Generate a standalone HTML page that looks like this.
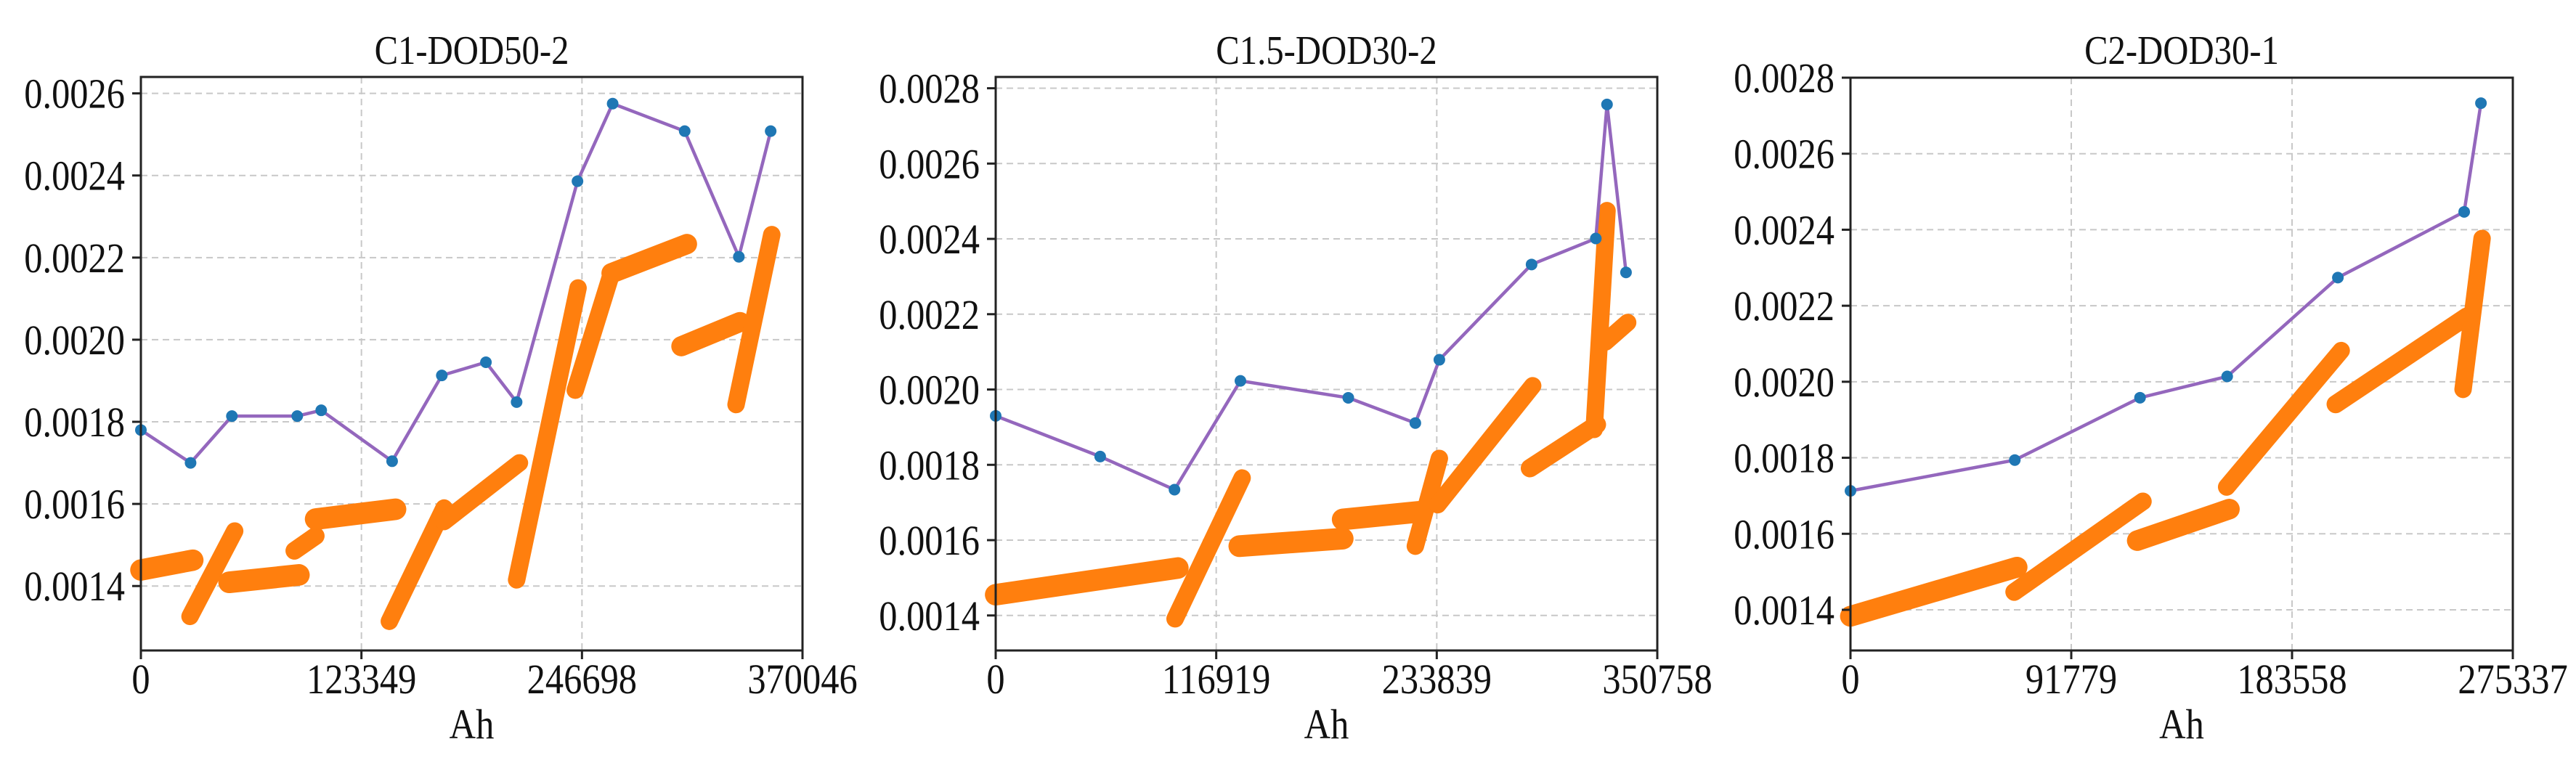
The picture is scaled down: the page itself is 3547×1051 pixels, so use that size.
<!DOCTYPE html>
<html><head><meta charset="utf-8"><style>html,body{margin:0;padding:0;background:#fff}svg{display:block}</style></head>
<body>
<svg id="chart" width="3547" height="1051" viewBox="0 0 3547 1051" xmlns="http://www.w3.org/2000/svg"></svg>
<script>
// ---- data ----
const titles = ["C1-DOD50-2", "C1.5-DOD30-2", "C2-DOD30-1"];
const xMax = [370046, 350758, 275337];
const xTicks = [[0,123349,246698,370046],[0,116919,233839,350758],[0,91779,183558,275337]];
const yTicks1 = [0.0014,0.0016,0.0018,0.0020,0.0022,0.0024,0.0026];
const yTicks2 = [0.0014,0.0016,0.0018,0.0020,0.0022,0.0024,0.0026,0.0028];
const yTicks3 = [0.0014,0.0016,0.0018,0.0020,0.0022,0.0024,0.0026,0.0028];
const yRange1 = [0.001243, 0.00264];
const yRange2 = [0.001307, 0.00283];
const yRange3 = [0.001293, 0.0028];

const lineX1 = [0,27790,50900,87440,100860,140520,168310,192980,210150,244190,263860,304150,334440,352240];
const lineY1 = [0.00178,0.0017,0.001814,0.001814,0.001828,0.001704,0.001913,0.001945,0.001848,0.002386,0.002575,0.002508,0.002202,0.002508];
const lineX2 = [0,55400,94800,129750,186930,222480,235220,284100,318170,324100,334170];
const lineY2 = [0.00193,0.001822,0.001734,0.002023,0.001978,0.001911,0.002079,0.002332,0.002401,0.002757,0.002311];
const lineX3 = [0,68310,120360,156600,202610,255120,262090];
const lineY3 = [0.001713,0.001794,0.001958,0.002014,0.002274,0.002447,0.002733];

// orange scatter bands: start/end x and y of each segment
const segX0_1 = [0,27480,49340,85870,97740,138960,169560,210150,242950,263250,302280,332880];
const segX1_1 = [29040,52460,88370,97740,142400,169560,211720,244510,263250,305410,335070,352860];
const segY0_1 = [0.001439,0.001326,0.001409,0.001486,0.001563,0.001314,0.001557,0.001415,0.001877,0.002162,0.001984,0.001842];
const segY1_1 = [0.001463,0.001534,0.001427,0.001522,0.001587,0.001590,0.001700,0.002126,0.002162,0.002233,0.002043,0.002256];
const segX0_2 = [0,95100,129170,183970,222480,234330,283210,317280,323210];
const segX1_2 = [96580,130650,183970,223970,235220,284690,318760,324100,335060];
const segY0_2 = [0.001455,0.001391,0.001584,0.001655,0.001584,0.001694,0.001791,0.001894,0.002126];
const segY1_2 = [0.001526,0.001765,0.001604,0.001675,0.001817,0.002010,0.001907,0.002475,0.002178];
const segX0_3 = [0,68080,119200,156370,201680,254660];
const segX1_3 = [69240,121520,157530,204000,256280,262560];
const segY0_3 = [0.001383,0.001447,0.001582,0.001723,0.001941,0.001980];
const segY1_3 = [0.001512,0.001685,0.001665,0.002082,0.002172,0.002377];

// ---- layout ----
const boxes = [{L:194,R:1105,T:106,B:896},{L:1371,R:2282,T:106,B:896},{L:2548,R:3460,T:107,B:896}];
const yTicksAll=[yTicks1,yTicks2,yTicks3], yRanges=[yRange1,yRange2,yRange3];
const lines=[[lineX1,lineY1],[lineX2,lineY2],[lineX3,lineY3]];
const segs=[[segX0_1,segX1_1,segY0_1,segY1_1],[segX0_2,segX1_2,segY0_2,segY1_2],[segX0_3,segX1_3,segY0_3,segY1_3]];
const NS="http://www.w3.org/2000/svg";
const svg=document.getElementById('chart');
function mk(tag,attrs,parent){const e=document.createElementNS(NS,tag);for(const k in attrs)e.setAttribute(k,attrs[k]);(parent||svg).appendChild(e);return e;}
function txt(s,x,y,anchor,size,parent){const g=mk('g',{transform:`translate(${x},${y}) scale(0.87,1)`},parent);const t=mk('text',{x:0,y:0,'text-anchor':anchor,'font-family':'"Liberation Serif", serif','font-size':size,fill:'#111'},g);t.textContent=s;return t;}

boxes.forEach((b,i)=>{
  const g=mk('g',{});
  
  
  const [y0,y1]=yRanges[i];
  const sx=v=>b.L+(v/xMax[i])*(b.R-b.L);
  const sy=v=>b.B-(v-y0)/(y1-y0)*(b.B-b.T);
  // grid
  xTicks[i].forEach(t=>{const l=mk('line',{x1:sx(t),x2:sx(t),y1:b.T,y2:b.B,stroke:'#c8c8c8','stroke-width':2,'stroke-dasharray':'9,6'},g);});
  yTicksAll[i].forEach(t=>{const l=mk('line',{x1:b.L,x2:b.R,y1:sy(t),y2:sy(t),stroke:'#c8c8c8','stroke-width':2,'stroke-dasharray':'9,6'},g);});
  // orange bands
  const sg=segs[i];
  for(let k=0;k<sg[0].length;k++){
    const xa=sx(sg[0][k]),xb=sx(sg[1][k]),ya=sy(sg[2][k]),yb=sy(sg[3][k]);
    const ang=Math.atan2(Math.abs(yb-ya),Math.abs(xb-xa)+0.001);
    const w=Math.max(24,30*Math.cos(ang));
    const l=mk('line',{x1:xa,x2:xb,y1:ya,y2:yb,stroke:'#ff7f0e','stroke-width':w,'stroke-linecap':'round'},g);
    
    
  }
  // purple line
  const [lx,ly]=lines[i];
  const p=mk('polyline',{points:lx.map((v,k)=>sx(v)+','+sy(ly[k])).join(' '),fill:'none',stroke:'#9467bd','stroke-width':4.5},g);
  
  
  lx.forEach((v,k)=>{const c=mk('circle',{cx:sx(v),cy:sy(ly[k]),r:8,fill:'#1f77b4'},g);});
  // frame
  const fr=mk('rect',{x:b.L,y:b.T,width:b.R-b.L,height:b.B-b.T,fill:'none',stroke:'#222','stroke-width':3},g);
  
  
  // ticks
  xTicks[i].forEach(t=>{mk('line',{x1:sx(t),x2:sx(t),y1:b.B,y2:b.B+12,stroke:'#222','stroke-width':3},g);const tl=txt(String(t),sx(t),955,'middle',58,g);});
  yTicksAll[i].forEach(t=>{mk('line',{x1:b.L-12,x2:b.L,y1:sy(t),y2:sy(t),stroke:'#222','stroke-width':3},g);const tl=txt(t.toFixed(4),b.L-22,sy(t)+20,'end',58,g);});
  const xt=txt('Ah',(b.L+b.R)/2,1017,'middle',58,g);
  
  
  const tt=txt(titles[i],(b.L+b.R)/2,88,'middle',56,g);
  
  
});
</script>
</body></html>
